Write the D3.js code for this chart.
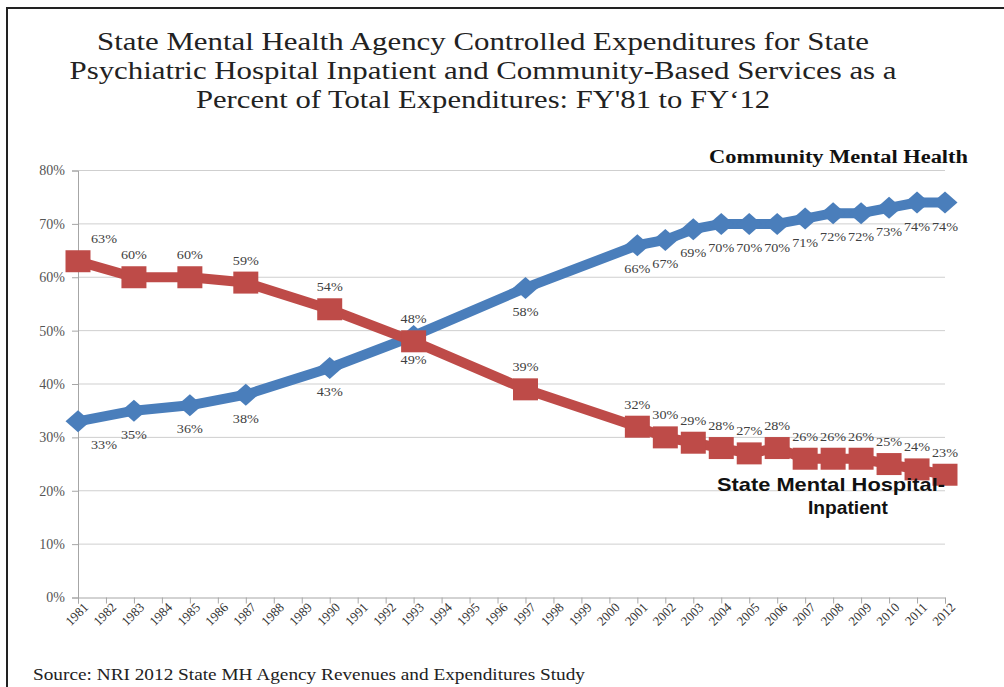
<!DOCTYPE html>
<html>
<head>
<meta charset="utf-8">
<script src="https://cdn.jsdelivr.net/npm/d3@7"></script>
<style>
  html, body { margin: 0; padding: 0; background: #fff; }
  svg { display: block; }
</style>
</head>
<body>
<svg id="chart" width="1004" height="687"></svg>
<script>
// ---- Data ----
const categories = d3.range(1981, 2013).map(String);
const pointYears = ["1981","1983","1985","1987","1990","1993","1997","2001","2002","2003","2004","2005","2006","2007","2008","2009","2010","2011","2012"];
const communityValues = [33,35,36,38,43,49,58,66,67,69,70,70,70,71,72,72,73,74,74];
const hospitalValues  = [63,60,60,59,54,48,39,32,30,29,28,27,28,26,26,26,25,24,23];
const yTicks = [0,10,20,30,40,50,60,70,80];
const titleLines = [
  "State Mental Health Agency Controlled Expenditures for State",
  "Psychiatric Hospital Inpatient and Community-Based Services as a",
  "Percent of Total Expenditures: FY'81 to FY\u201812"
];
const sourceText = "Source: NRI 2012 State MH Agency Revenues and Expenditures Study";
const communityName = "Community Mental Health";
const hospitalNameLines = ["State Mental Hospital-", "Inpatient"];

// ---- Layout ----
const svg = d3.select("#chart");
const plotL = 78, plotR = 945, plotT = 170.5, plotB = 597.5;
const serif = "'Liberation Serif', 'Times New Roman', serif";
const sans = "'Liberation Sans', Arial, sans-serif";
const blue = "#4a7ebb", red = "#be4b48";

const x = d3.scalePoint().domain(categories).range([plotL, plotR]);
const y = d3.scaleLinear().domain([0, 80]).range([plotB, plotT]);

// frame
svg.append("line").attr("x1", 7).attr("x2", 1004).attr("y1", 8).attr("y2", 8)
  .attr("stroke", "#222").attr("stroke-width", 2);
svg.append("line").attr("x1", 7).attr("x2", 7).attr("y1", 7).attr("y2", 687)
  .attr("stroke", "#222").attr("stroke-width", 2);

// title (stretched horizontally like the reference)
const titleLens = [772, 827, 574];
svg.append("g").selectAll("text").data(titleLines).join("text")
  .attr("x", 483).attr("y", (d, i) => 50 + i * 29)
  .attr("text-anchor", "middle")
  .attr("textLength", (d, i) => titleLens[i]).attr("lengthAdjust", "spacingAndGlyphs")
  .attr("font-family", serif).attr("font-size", 25).attr("fill", "#222")
  .text(d => d);

// gridlines
svg.append("g").selectAll("line").data(yTicks.filter(d => d > 0)).join("line")
  .attr("x1", plotL).attr("x2", plotR)
  .attr("y1", d => y(d)).attr("y2", d => y(d))
  .attr("stroke", "#cfcfcf").attr("stroke-width", 1);

// y axis
const yAxis = d3.axisLeft(y).tickValues(yTicks).tickSize(6).tickFormat(d => d + "%");
const gy = svg.append("g").attr("transform", `translate(${plotL},0)`).call(yAxis);
gy.select(".domain").attr("stroke", "#a6a6a6");
gy.selectAll(".tick line").attr("stroke", "#a6a6a6");
gy.selectAll(".tick text").attr("font-family", serif).attr("font-size", 14)
  .attr("fill", "#555").attr("x", -13);

// x axis
const xAxis = d3.axisBottom(x).tickSize(6);
const gx = svg.append("g").attr("transform", `translate(0,${plotB})`).call(xAxis);
gx.select(".domain").attr("stroke", "#a6a6a6");
gx.selectAll(".tick line").attr("stroke", "#a6a6a6");
gx.selectAll(".tick text").attr("font-family", serif).attr("font-size", 13)
  .attr("fill", "#333")
  .attr("text-anchor", "end")
  .attr("dy", 0)
  .attr("transform", "translate(5,5) rotate(-45)")
  .attr("x", 0).attr("y", 8);

// series
function series(values, color, marker) {
  const pts = pointYears.map((yr, i) => ({ yr, v: values[i], i }));
  const g = svg.append("g");
  g.append("path").datum(pts)
    .attr("d", d3.line().x(d => x(d.yr)).y(d => y(d.v)))
    .attr("fill", "none").attr("stroke", color).attr("stroke-width", 10)
    .attr("stroke-linejoin", "round");
  g.selectAll("path.m").data(pts).join("path").attr("class", "m")
    .attr("transform", d => `translate(${x(d.yr)},${y(d.v)})`)
    .attr("d", marker).attr("fill", color);
  return pts;
}
const diamond = "M0,-11 L12.5,0 L0,11 L-12.5,0 Z";
const square = "M-12.5,-11 H12.5 V11 H-12.5 Z";
const cPts = series(communityValues, blue, diamond);
const hPts = series(hospitalValues, red, square);

// data labels
function labels(pts, dy) {
  svg.append("g").selectAll("text").data(pts).join("text")
    .attr("x", d => x(d.yr) + (d.i === 0 ? 26 : 0))
    .attr("y", d => y(d.v) + dy)
    .attr("text-anchor", "middle")
    .attr("textLength", 26).attr("lengthAdjust", "spacingAndGlyphs")
    .attr("font-family", serif).attr("font-size", 13).attr("fill", "#404040")
    .text(d => d.v + "%");
}
labels(cPts, 28);
labels(hPts, -18);

// series annotations
svg.append("text").attr("x", 968).attr("y", 163).attr("text-anchor", "end")
  .attr("textLength", 259).attr("lengthAdjust", "spacingAndGlyphs")
  .attr("font-family", serif).attr("font-weight", "bold").attr("font-size", 18)
  .attr("fill", "#111").text(communityName);
const hospLens = [228, 80];
svg.append("g").selectAll("text").data(hospitalNameLines).join("text")
  .attr("x", (d, i) => i === 0 ? 831 : 848).attr("y", (d, i) => 491 + i * 23)
  .attr("text-anchor", "middle")
  .attr("textLength", (d, i) => hospLens[i]).attr("lengthAdjust", "spacingAndGlyphs")
  .attr("font-family", sans).attr("font-weight", "bold").attr("font-size", 19)
  .attr("fill", "#111").text(d => d);

// source
svg.append("text").attr("x", 33).attr("y", 680)
  .attr("textLength", 552).attr("lengthAdjust", "spacingAndGlyphs")
  .attr("font-family", serif).attr("font-size", 17).attr("fill", "#222")
  .text(sourceText);
</script>
</body>
</html>
